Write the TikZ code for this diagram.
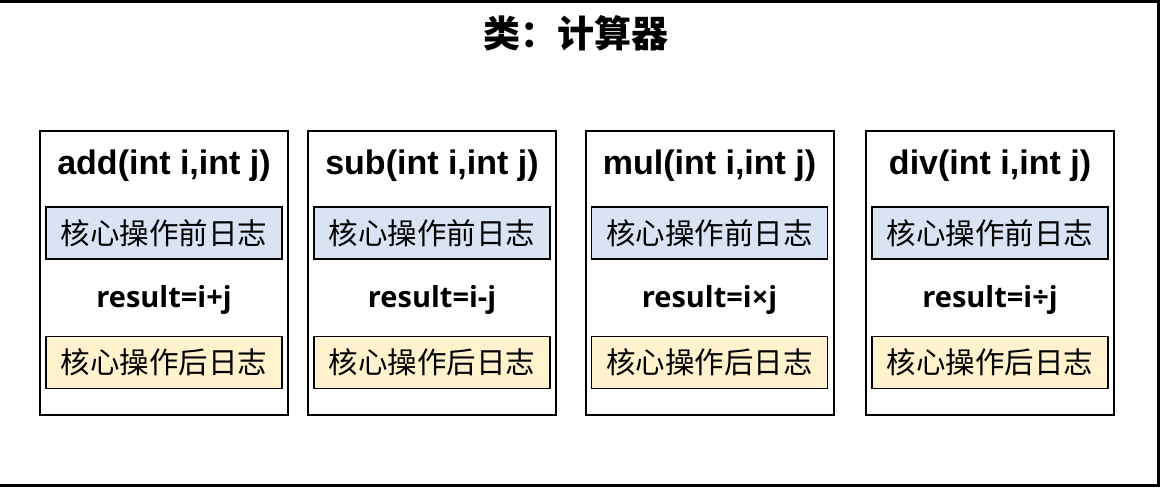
\documentclass[tikz,border=0pt]{standalone}
\usepackage{fontspec}
\usepackage{tikz}
\usetikzlibrary{positioning}
\setmainfont{Liberation Sans}
\newfontfamily\cjk{Noto Sans CJK SC}
\newfontfamily\resfont{Open Sans}
\definecolor{pre}{RGB}{218,227,243}
\definecolor{post}{RGB}{255,242,204}
\tikzset{
  method/.style={draw,line width=2pt,minimum width=248pt,minimum height=284pt,inner sep=0pt},
  header/.style={font=\bfseries\fontsize{34}{34}\selectfont,inner sep=0pt},
  logbox/.style={draw,line width=1.5pt,minimum width=236pt,minimum height=52pt,inner sep=0pt,
    font=\cjk\fontsize{29.5}{29.5}\selectfont},
  core/.style={font=\resfont\bfseries\fontsize{29}{29}\selectfont,inner sep=0pt}
}

\begin{document}
\begin{tikzpicture}[x=1pt,y=-1pt]
\useasboundingbox (0,0) rectangle (1161,487);
\draw[line width=3pt] (-10,1.5) rectangle (1158.5,485.5);
\node[font=\cjk\bfseries\fontsize{37}{37}\selectfont,inner sep=0pt] (title) at (576,33) {类：计算器};
% one box per method
\foreach \name/\x/\op in {add/164/+,sub/432/-,mul/709.5/×,div/990/÷}{
  \node[method] (\name) at (\x,273) {};
  \node[header,anchor=base] (\name-head) at (\x,174) {\name(int i,int j)};
  \node[logbox,fill=pre] (\name-pre) at (\x,233) {核心操作前日志};
  \node[core] (\name-core) at (\x,300) {result=i\op j};
  \node[logbox,fill=post] (\name-post) at (\x,362.5) {核心操作后日志};
}
\end{tikzpicture}
\end{document}
